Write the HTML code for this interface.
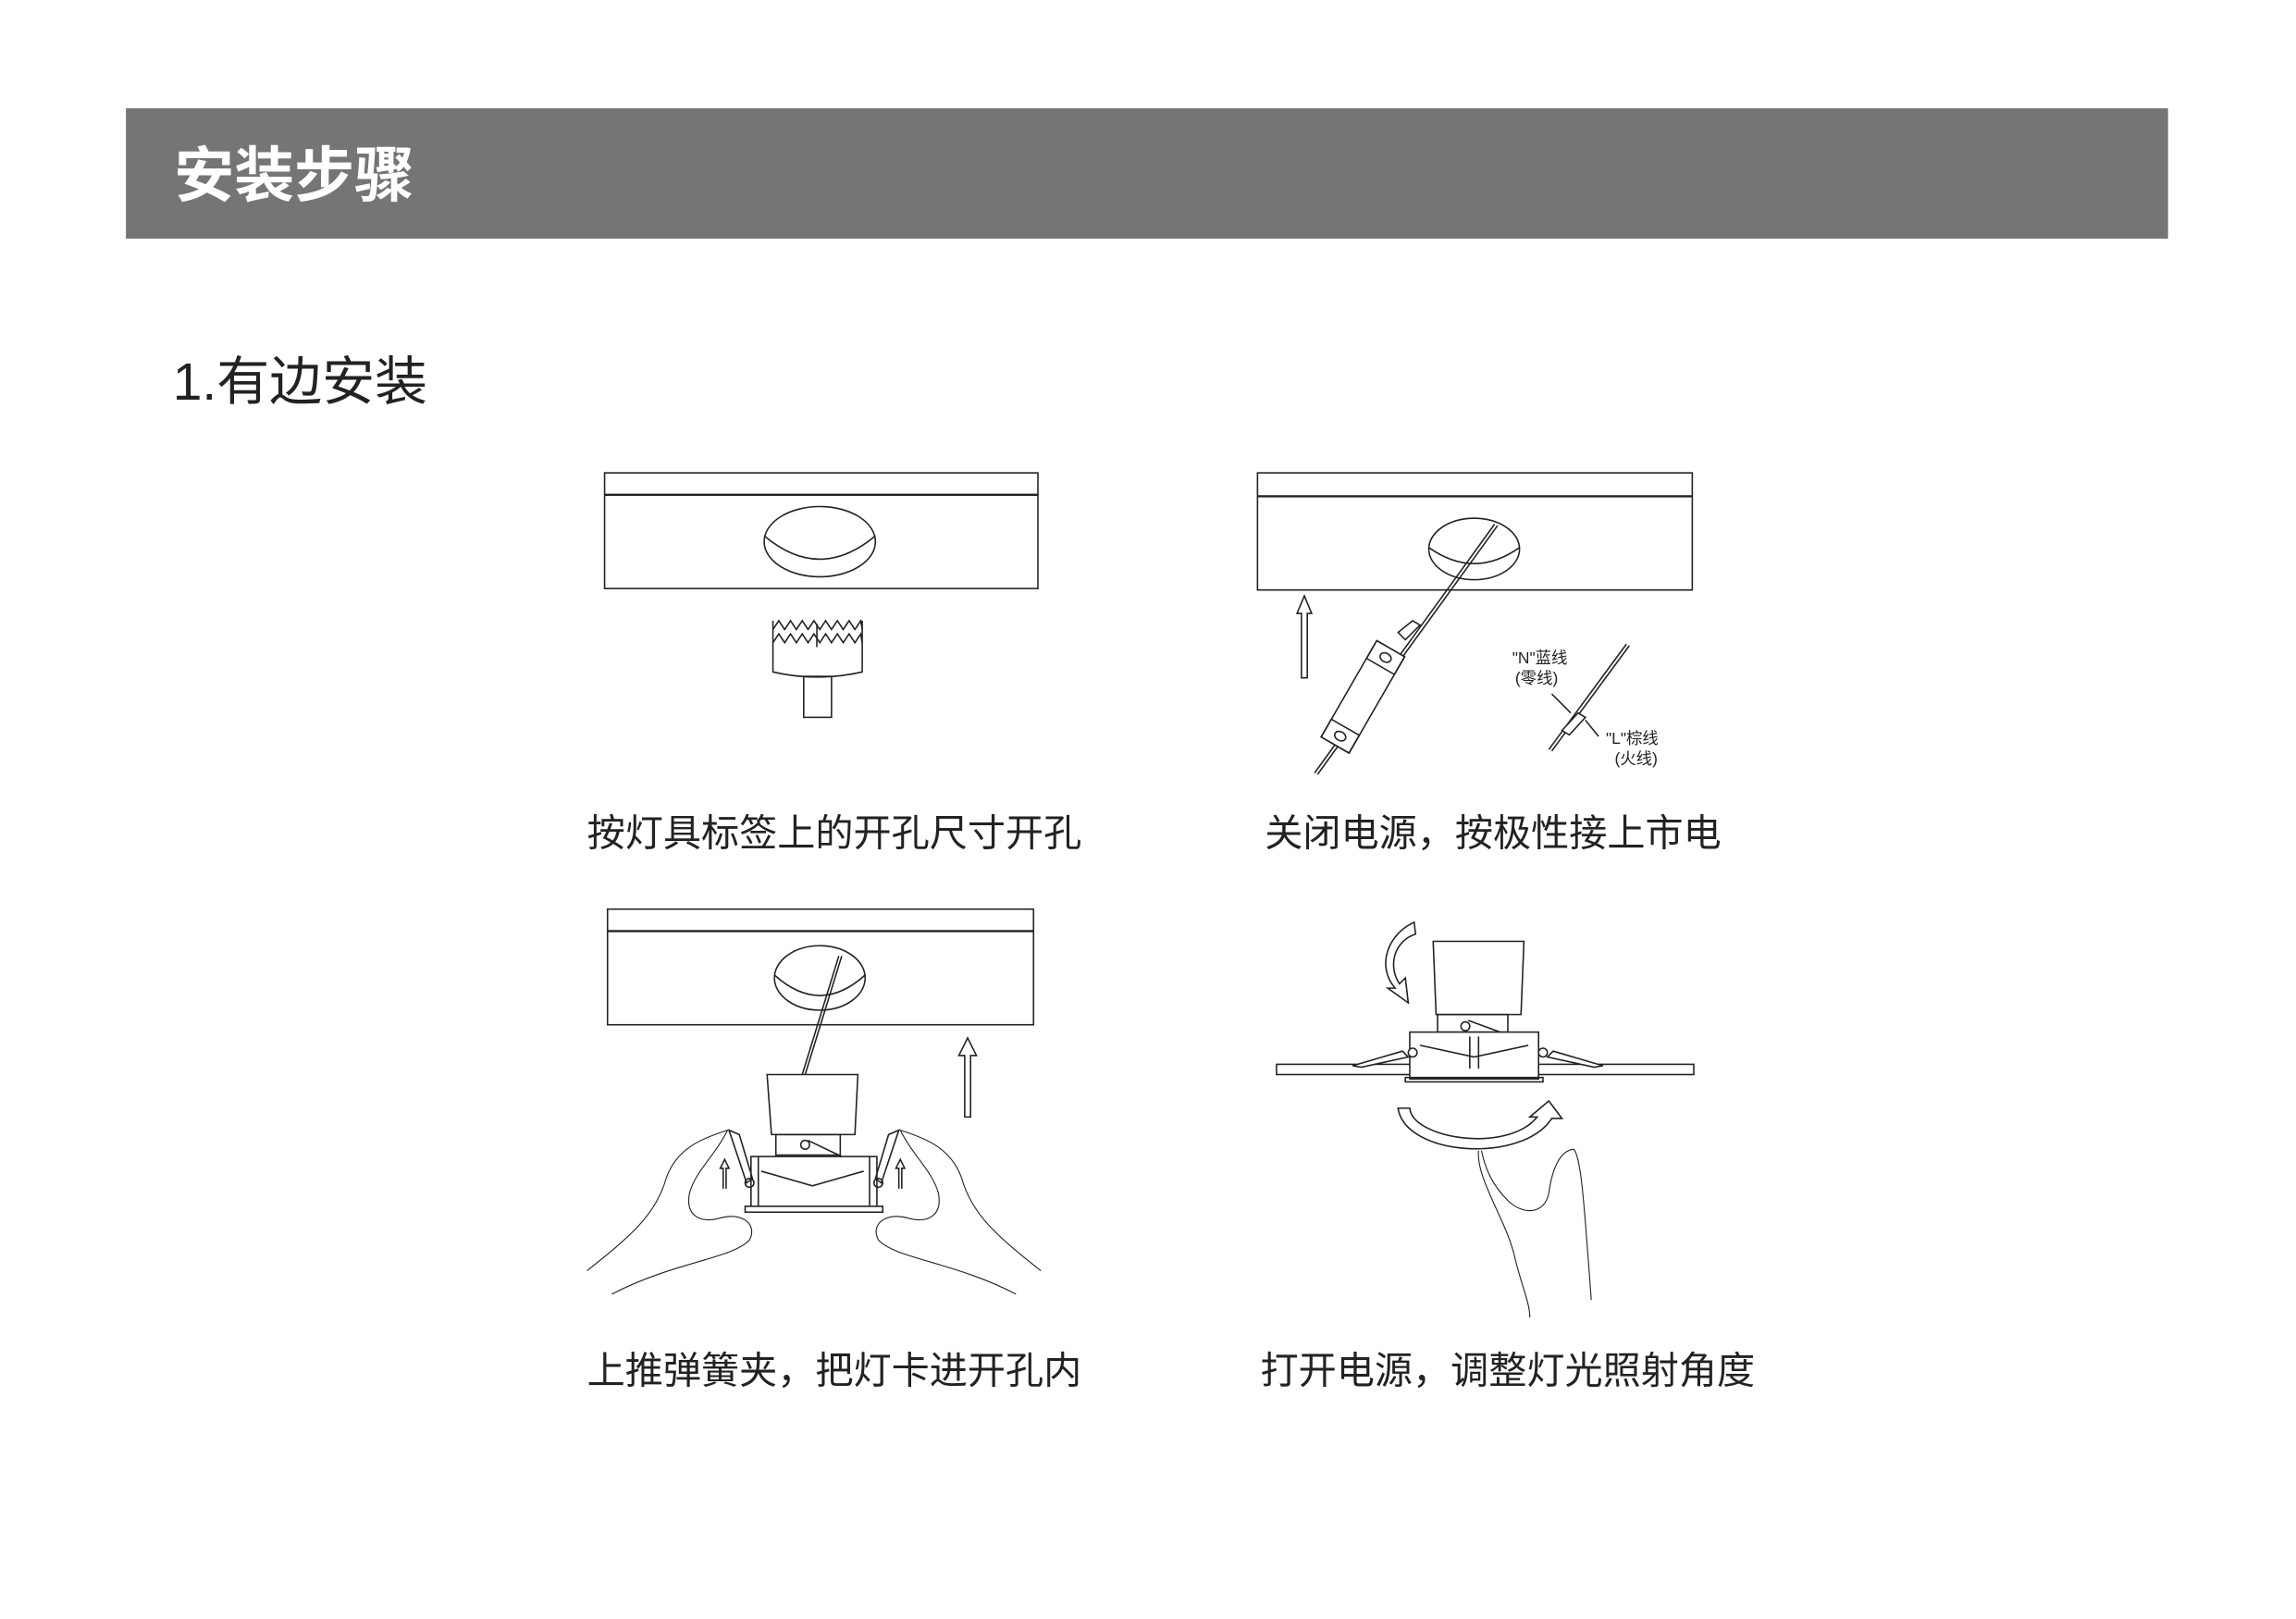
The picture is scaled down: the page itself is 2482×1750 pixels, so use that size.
<!DOCTYPE html>
<html><head><meta charset="utf-8"><style>
html,body{margin:0;padding:0;background:#fff;}
svg{display:block;}
text{font-family:"Liberation Sans","Noto Sans CJK SC",sans-serif;}
</style></head><body>
<svg width="2482" height="1750" viewBox="0 0 1568.4 1105.9" preserveAspectRatio="none" xmlns="http://www.w3.org/2000/svg">
<rect width="1570" height="1110" fill="#fff"/>
<rect x="86" y="74" width="1395" height="89" fill="#757575"/>
<text x="119" y="134" font-size="41" font-weight="bold" fill="#fff">安装步骤</text>
<text x="118" y="273" font-size="36" fill="#222">1.有边安装</text>

<g fill="none" stroke="#222" stroke-width="1">
<rect x="413" y="323" width="296" height="79" fill="#fff"/>
<line x1="413" y1="338" x2="709" y2="338" stroke-width="1.5"/>
<ellipse cx="560" cy="370" rx="38" ry="24"/>
<path d="M522,366 Q560,398 598,366" />
<path d="M528,430 l4,-6 4,6 4,-6 4,6 4,-6 4,6 4,-6 4,6 4,-6 4,6 4,-6 4,6 4,-6 4,6 4,-6 l1,6"/>
<path d="M528,439 l4,-6 4,6 4,-6 4,6 4,-6 4,6 4,-6 4,6 4,-6 4,6 4,-6 4,6 4,-6 4,6 4,-6 l1,6"/>
<path d="M528,424 L528,459 Q558,466 589,459 L589,424"/>
<rect x="549" y="462" width="19" height="28"/>
<line x1="558" y1="426" x2="558" y2="442"/>

<rect x="859" y="323" width="297" height="80" fill="#fff"/>
<line x1="859" y1="339" x2="1156" y2="339" stroke-width="1.5"/>
<ellipse cx="1007" cy="375" rx="31" ry="21"/>
<path d="M976,374 Q1007,396 1038,374"/>
<line x1="1021" y1="358" x2="898" y2="528"/>
<line x1="1023" y1="359" x2="900" y2="529"/>
<path d="M955,432 L965,424 L970,427 L960,437 Z" fill="#fff"/>
<g transform="translate(931,476) rotate(30)">
<rect x="-11" y="-38" width="22" height="76" fill="#fff"/>
<rect x="-11" y="-38" width="22" height="14"/>
<rect x="-11" y="24" width="22" height="14"/>
<ellipse cx="0" cy="-31" rx="4" ry="3"/>
<ellipse cx="0" cy="31" rx="4" ry="3"/>
</g>
<path d="M889,463 L889,419 L886,419 L891,407 L896,419 L893,419 L893,463 Z"/>
<line x1="1111" y1="440" x2="1058" y2="512"/>
<line x1="1113" y1="441" x2="1060" y2="513"/>
<path d="M1067,499 L1078,487 L1083,490 L1072,502 Z" fill="#fff"/>
<line x1="1060" y1="474" x2="1073" y2="487"/>
<line x1="1083" y1="492" x2="1092" y2="503"/>

<rect x="415" y="621" width="291" height="79" fill="#fff"/>
<line x1="415" y1="636" x2="706" y2="636" stroke-width="1.5"/>
<ellipse cx="560" cy="668" rx="31" ry="22"/>
<path d="M529,666 Q560,694 591,666"/>
<line x1="573" y1="653" x2="548" y2="734"/>
<line x1="575" y1="653" x2="550" y2="734"/>
<path d="M659,763 L659,721 L655,721 L661,709 L667,721 L663,721 L663,763 Z"/>
<path d="M524,734 L586,734 L584,775 L527,775 Z" fill="#fff"/>
<rect x="530" y="775" width="44" height="14"/>
<circle cx="550" cy="782" r="3"/>
<path d="M552,779 L575,790"/>
<rect x="513" y="790" width="86" height="36"/>
<line x1="518" y1="790" x2="518" y2="826"/><line x1="594" y1="790" x2="594" y2="826"/>
<path d="M520,800 L555,810 L590,800"/>
<rect x="509" y="824" width="94" height="4" fill="#fff"/>
<path d="M498,772 L505,775 L514,805 L510,808 Z"/>
<path d="M614,772 L607,775 L598,805 L602,808 Z"/>
<circle cx="512" cy="808" r="3"/><circle cx="600" cy="808" r="3"/>
<path d="M494,812 L494,798 L492,798 L495,792 L498,798 L496,798 L496,812"/>
<path d="M614,812 L614,798 L612,798 L615,792 L618,798 L616,798 L616,812"/>
<path stroke-width="0.7" d="M401,868 C430,845 448,830 455,805 C462,785 478,778 497,772 C488,790 475,800 471,815 C468,830 478,836 492,832 C505,828 518,835 512,847 C500,860 460,862 418,884"/>
<path stroke-width="0.7" d="M711,868 C682,845 664,830 657,805 C650,785 634,778 615,772 C624,790 637,800 641,815 C644,830 634,836 620,832 C607,828 594,835 600,847 C612,860 652,862 694,884"/>

<path d="M979,643 L1041,643 L1039,693 L981,693 Z" fill="#fff"/>
<rect x="982" y="693" width="48" height="12"/>
<circle cx="1001" cy="701" r="3"/>
<path d="M1003,697 L1033,708"/>
<rect x="872" y="727" width="285" height="7" fill="#fff"/>
<rect x="963" y="705" width="88" height="32" fill="#fff"/>
<path d="M970,714 L1007,722 L1044,714"/>
<line x1="1004" y1="708" x2="1004" y2="730"/><line x1="1010" y1="708" x2="1010" y2="730"/>
<rect x="960" y="736" width="94" height="3"/>
<path d="M924,728 L958,718 L962,722 L930,729 Z" fill="#fff"/>
<path d="M1095,728 L1061,718 L1057,722 L1089,729 Z" fill="#fff"/>
<circle cx="965" cy="719" r="3" fill="#fff"/><circle cx="1054" cy="719" r="3" fill="#fff"/>
<path d="M966,630 C948,638 940,660 953,675 L948,675 L962,685 L960,668 L956,672 C948,660 952,643 967,638 Z" fill="#fff"/>
<path d="M963,757 C965,778 1030,788 1050,763 L1045,763 L1058,752 L1067,764 L1060,764 C1040,795 960,790 955,757 Z" fill="#fff"/>
<path stroke-width="0.7" d="M1010,786 C1008,805 1030,835 1035,860 C1040,880 1045,890 1045,900"/>
<path stroke-width="0.7" d="M1012,786 C1015,800 1020,810 1030,820 C1040,830 1055,830 1058,815 C1060,800 1065,786 1075,785 C1080,790 1082,820 1087,888"/>
</g>

<g fill="#222">
<text x="1033" y="453" font-size="11">"N"蓝线</text>
<text x="1035" y="467" font-size="11">(零线)</text>
<text x="1097" y="508" font-size="11">"L"棕线</text>
<text x="1103" y="522" font-size="11">(火线)</text>
<text x="401" y="578" font-size="26">按灯具标签上的开孔尺寸开孔</text>
<text x="864" y="578" font-size="26">关闭电源，按极性接上市电</text>
<text x="401" y="945" font-size="26">上推弹簧夹，把灯卡进开孔内</text>
<text x="861" y="945" font-size="26">打开电源，调整灯光照射角度</text>
</g>
</svg>
</body></html>
